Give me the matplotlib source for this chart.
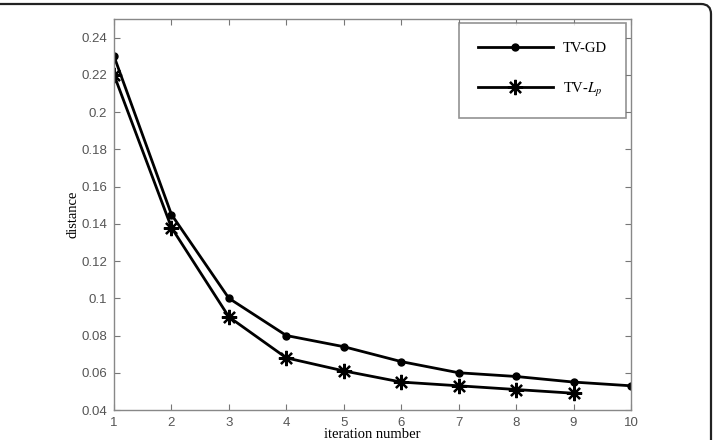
import matplotlib
matplotlib.use("Agg")
import matplotlib.pyplot as plt
from matplotlib.patches import FancyBboxPatch

plt.rcParams["mathtext.fontset"] = "stix"

iterations_gd = [1, 2, 3, 4, 5, 6, 7, 8, 9, 10]
tv_gd = [0.230, 0.145, 0.100, 0.080, 0.074, 0.066, 0.060, 0.058, 0.055, 0.053]
iterations_lp = [1, 2, 3, 4, 5, 6, 7, 8, 9]
tv_lp = [0.220, 0.138, 0.090, 0.068, 0.061, 0.055, 0.053, 0.051, 0.049]
xticks = [1, 2, 3, 4, 5, 6, 7, 8, 9, 10]
yticks = [0.04, 0.06, 0.08, 0.1, 0.12, 0.14, 0.16, 0.18, 0.2, 0.22, 0.24]
ytick_labels = ["0.04", "0.06", "0.08", "0.1", "0.12", "0.14", "0.16", "0.18", "0.2", "0.22", "0.24"]

W, H = 713, 440
fig = plt.figure(figsize=(W/100, H/100), dpi=100)
L, R, T, B = 114, 631, 19, 410
ax = fig.add_axes([L/W, (H-B)/H, (R-L)/W, (B-T)/H])

# rounded border of the scanned figure (top edge with right corner)
border = FancyBboxPatch((-0.2, -1.0), 7.31, 5.36,
                        boxstyle="round,pad=0,rounding_size=0.1",
                        transform=fig.dpi_scale_trans, fill=False, edgecolor="#222222",
                        linewidth=1.6, clip_on=False)
fig.patches.append(border)

ax.plot(iterations_gd, tv_gd, color="black", linewidth=2.0, marker="o", markersize=5,
        label="TV-GD")
ax.plot(iterations_lp, tv_lp, color="black", linewidth=2.0, marker=(8, 2, 0), markersize=11,
        markeredgewidth=1.6, label="TV-$L_p$")

ax.set_xlim(1, 10)
ax.set_ylim(0.04, 0.25)
ax.set_xticks(xticks)
ax.set_yticks(yticks)
ax.set_yticklabels(ytick_labels)
ax.tick_params(direction="in", top=True, right=True, length=4, width=0.8,
               colors="#777777", labelcolor="#555555", labelsize=9.5, pad=5)
for lab in ax.get_xticklabels() + ax.get_yticklabels():
    lab.set_family("Liberation Sans")
for s in ax.spines.values():
    s.set_color("#888888")
    s.set_linewidth(1.0)

ax.set_xlabel("iteration number", family="Liberation Serif", fontsize=10.5, labelpad=-1)
ax.set_ylabel("distance", family="Liberation Serif", fontsize=10.5, labelpad=1)

leg = ax.legend(loc="upper right", bbox_to_anchor=(0.99, 0.99), frameon=True, fancybox=False,
                prop={"family": "Liberation Serif", "size": 10.5}, handlelength=5.1,
                labelspacing=1.75, borderpad=1.3, handletextpad=0.7, borderaxespad=0.0)
leg.get_frame().set_edgecolor("#777777")
leg.get_frame().set_linewidth(1.2)

fig.savefig("out.png", dpi=100)
